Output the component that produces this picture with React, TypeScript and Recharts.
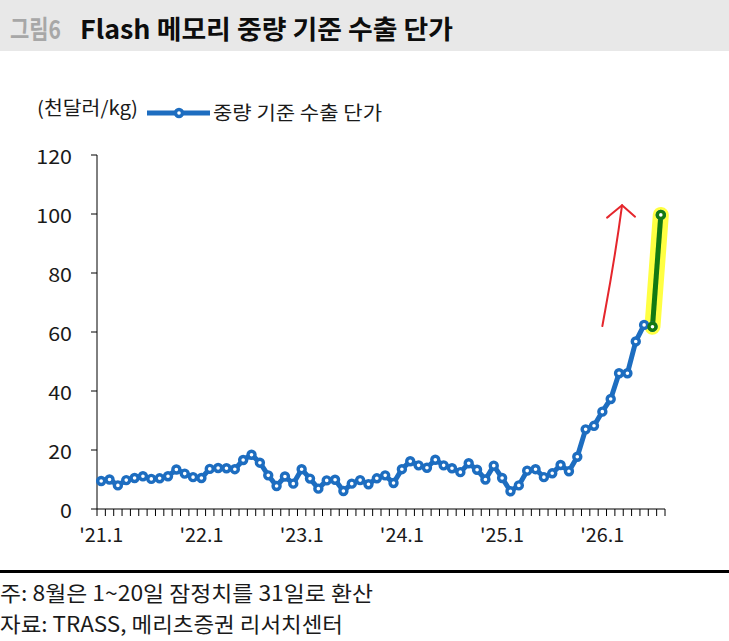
import React from 'react';
import { LineChart, Line, XAxis, YAxis, ReferenceLine } from 'recharts';

// ---------- data ----------
const years = [21, 22, 23, 24, 25, 26];
const lastMonthOf26 = 8;
const categories: string[] = [];
for (const y of years) {
  for (let m = 1; m <= 12; m++) {
    if (y === 26 && m > lastMonthOf26) break;
    categories.push(`'${y}.${m}`);
  }
}

// 천달러/kg, monthly 2021.1 ~ 2026.8
const exportPrice = [
  9.5, 10.0, 8.0, 9.8, 10.5, 11.1, 10.2, 10.4, 11.1, 13.4, 12.0, 10.8,
  10.5, 13.6, 13.9, 13.8, 13.5, 16.6, 18.4, 15.7, 11.4, 7.8, 11.0, 8.6,
  13.5, 10.3, 6.9, 9.7, 9.9, 6.1, 8.6, 9.8, 8.4, 10.4, 11.4, 8.8,
  13.5, 16.2, 14.8, 14.0, 16.7, 14.8, 13.8, 12.5, 15.5, 13.3, 10.0, 14.7,
  10.5, 6.0, 8.0, 13.0, 13.5, 10.8, 12.1, 14.9, 12.8, 17.7, 27.0, 28.2,
  33.0, 37.3, 46.0, 46.0, 56.8, 62.4, 61.8, 99.7,
];

const yTicks = [0, 20, 40, 60, 80, 100, 120];
const xTickLabels = ["'21.1", "'22.1", "'23.1", "'24.1", "'25.1", "'26.1"];

// annotation arrow (data coordinates)
const arrowStart = { x: "'26.1", y: 62 };
const arrowEnd = { x: "'26.3", y: 103 };

const highlightCount = 2;
const data = categories.map((month, i) => ({
  month,
  price: exportPrice[i],
  latest: i >= categories.length - highlightCount ? exportPrice[i] : null,
}));

// ---------- layout ----------
const W = 729;
const H = 641;
const CHART_H = 600;
const PLOT_LEFT = 97;
const PLOT_RIGHT = 665;
const PLOT_TOP = 155;
const PLOT_BOTTOM = 509;
const STEP = (PLOT_RIGHT - PLOT_LEFT) / categories.length;

const BLUE = '#1d6dc0';
const GREEN = '#137913';
const YELLOW = '#ffff2e';
const RED = '#e5262c';
const FONT = '"Noto Sans CJK KR", "Liberation Sans", sans-serif';
const TEXT = '#1a1a1a';

const XTick = (props: any) => {
  const { x, payload, index } = props;
  const label = String(payload.value);
  const isLast = index === categories.length - 1 || label === categories[categories.length - 1];
  return (
    <g>
      <line x1={x - STEP / 2} x2={x - STEP / 2} y1={PLOT_BOTTOM} y2={PLOT_BOTTOM + 7} stroke="#000" strokeWidth={1} />
      {isLast && (
        <line x1={x + STEP / 2} x2={x + STEP / 2} y1={PLOT_BOTTOM} y2={PLOT_BOTTOM + 7} stroke="#000" strokeWidth={1} />
      )}
      {xTickLabels.includes(label) && (
        <text
          x={x}
          y={533}
          textAnchor="middle"
          dominantBaseline="central"
          fontSize={19}
          fontFamily={FONT}
          fill={TEXT}
          textLength={44}
          lengthAdjust="spacingAndGlyphs"
        >
          {label}
        </text>
      )}
    </g>
  );
};

const YTick = (props: any) => {
  const { x, y, payload } = props;
  const label = String(payload.value);
  return (
    <text
      x={x}
      y={y}
      textAnchor="end"
      dominantBaseline="central"
      fontSize={19}
      fontFamily={FONT}
      fill={TEXT}
      textLength={label.length * 11.9}
      lengthAdjust="spacingAndGlyphs"
    >
      {label}
    </text>
  );
};

const ArrowShape = (props: any) => {
  const { x1, y1, x2, y2 } = props;
  if ([x1, y1, x2, y2].some((v) => typeof v !== 'number' || isNaN(v))) return <g />;
  const tx = x2 + 3;
  const ty = y2;
  const d = `M${x1},${y1} C${x1 + 5},${y1 - 28} ${tx - 8},${ty + 60} ${tx},${ty}`;
  return (
    <g fill="none" stroke={RED} strokeWidth={2} strokeLinecap="round" strokeLinejoin="round">
      <path d={d} />
      <path d={`M${tx - 15},${ty + 12.5} L${tx - 13},${ty + 11} M${tx - 14},${ty + 11.5} L${tx},${ty} L${tx + 13},${ty + 11.5}`} />
    </g>
  );
};

export default function App() {
  return (
    <div style={{ position: 'relative', width: W, height: H, background: '#fff', overflow: 'hidden' }}>
      <style>{`body{margin:0}`}</style>
      <svg width={W} height={H} style={{ position: 'absolute', left: 0, top: 0 }}>
        <rect x={0} y={0} width={W} height={51} fill="#e8e8e8" />
        <text x={10} y={27} dominantBaseline="central" fontSize={26} fontWeight={700} fontFamily={FONT} fill="#a7a7a7" textLength={51} lengthAdjust="spacingAndGlyphs">
          그림6
        </text>
        <text x={80} y={27} dominantBaseline="central" fontSize={26} fontWeight={700} fontFamily={FONT} fill="#0d0d0d" textLength={373} lengthAdjust="spacingAndGlyphs">
          Flash 메모리 중량 기준 수출 단가
        </text>
        <text x={37} y={106} dominantBaseline="central" fontSize={19} fontFamily={FONT} fill={TEXT} textLength={101} lengthAdjust="spacingAndGlyphs">
          (천달러/kg)
        </text>
        <line x1={147} x2={210} y1={113} y2={113} stroke={BLUE} strokeWidth={5} />
        <circle cx={179} cy={113} r={3.5} fill="#fff" stroke={BLUE} strokeWidth={3.4} />
        <text x={213} y={111} dominantBaseline="central" fontSize={19} fontFamily={FONT} fill={TEXT} textLength={169} lengthAdjust="spacingAndGlyphs">
          중량 기준 수출 단가
        </text>
        <line x1={0} x2={W} y1={571.5} y2={571.5} stroke="#000" strokeWidth={3} />
        <text x={0} y={592} dominantBaseline="central" fontSize={21} fontFamily={FONT} fill={TEXT} textLength={373} lengthAdjust="spacingAndGlyphs">
          주: 8월은 1~20일 잠정치를 31일로 환산
        </text>
        <text x={0} y={622.5} dominantBaseline="central" fontSize={21} fontFamily={FONT} fill={TEXT} textLength={343} lengthAdjust="spacingAndGlyphs">
          자료: TRASS, 메리츠증권 리서치센터
        </text>
      </svg>
      <div style={{ position: 'absolute', left: 0, top: 0 }}>
        <LineChart
          width={W}
          height={CHART_H}
          data={data}
          margin={{ top: PLOT_TOP, right: W - PLOT_RIGHT, left: 0, bottom: CHART_H - PLOT_BOTTOM - 30 }}
        >
          <XAxis
            dataKey="month"
            interval={0}
            height={30}
            tick={<XTick />}
            tickLine={false}
            tickSize={0}
            tickMargin={0}
            axisLine={{ stroke: '#000', strokeWidth: 1 }}
            padding={{ left: STEP / 2, right: STEP / 2 }}
          />
          <YAxis
            type="number"
            domain={[0, 120]}
            ticks={yTicks}
            interval={0}
            width={PLOT_LEFT}
            tickSize={6}
            tickMargin={19}
            tick={<YTick />}
            axisLine={{ stroke: '#000', strokeWidth: 1 }}
            tickLine={{ stroke: '#000', strokeWidth: 1 }}
          />
          <Line
            dataKey="price"
            stroke={BLUE}
            strokeWidth={5}
            dot={{ r: 3.5, fill: '#fff', stroke: BLUE, strokeWidth: 3.4 }}
            activeDot={false}
            isAnimationActive={false}
          />
          <Line
            dataKey="latest"
            name="highlight"
            stroke={YELLOW}
            strokeOpacity={0.9}
            strokeWidth={16}
            strokeLinecap="round"
            dot={false}
            activeDot={false}
            connectNulls={false}
            isAnimationActive={false}
          />
          <Line
            dataKey="latest"
            name="latest"
            stroke={GREEN}
            strokeWidth={5}
            dot={{ r: 3.5, fill: '#fff', stroke: GREEN, strokeWidth: 3.4 }}
            activeDot={false}
            connectNulls={false}
            isAnimationActive={false}
          />
          <ReferenceLine
            segment={[arrowStart, arrowEnd]}
            ifOverflow="visible"
            shape={ArrowShape}
          />
        </LineChart>
      </div>
    </div>
  );
}
